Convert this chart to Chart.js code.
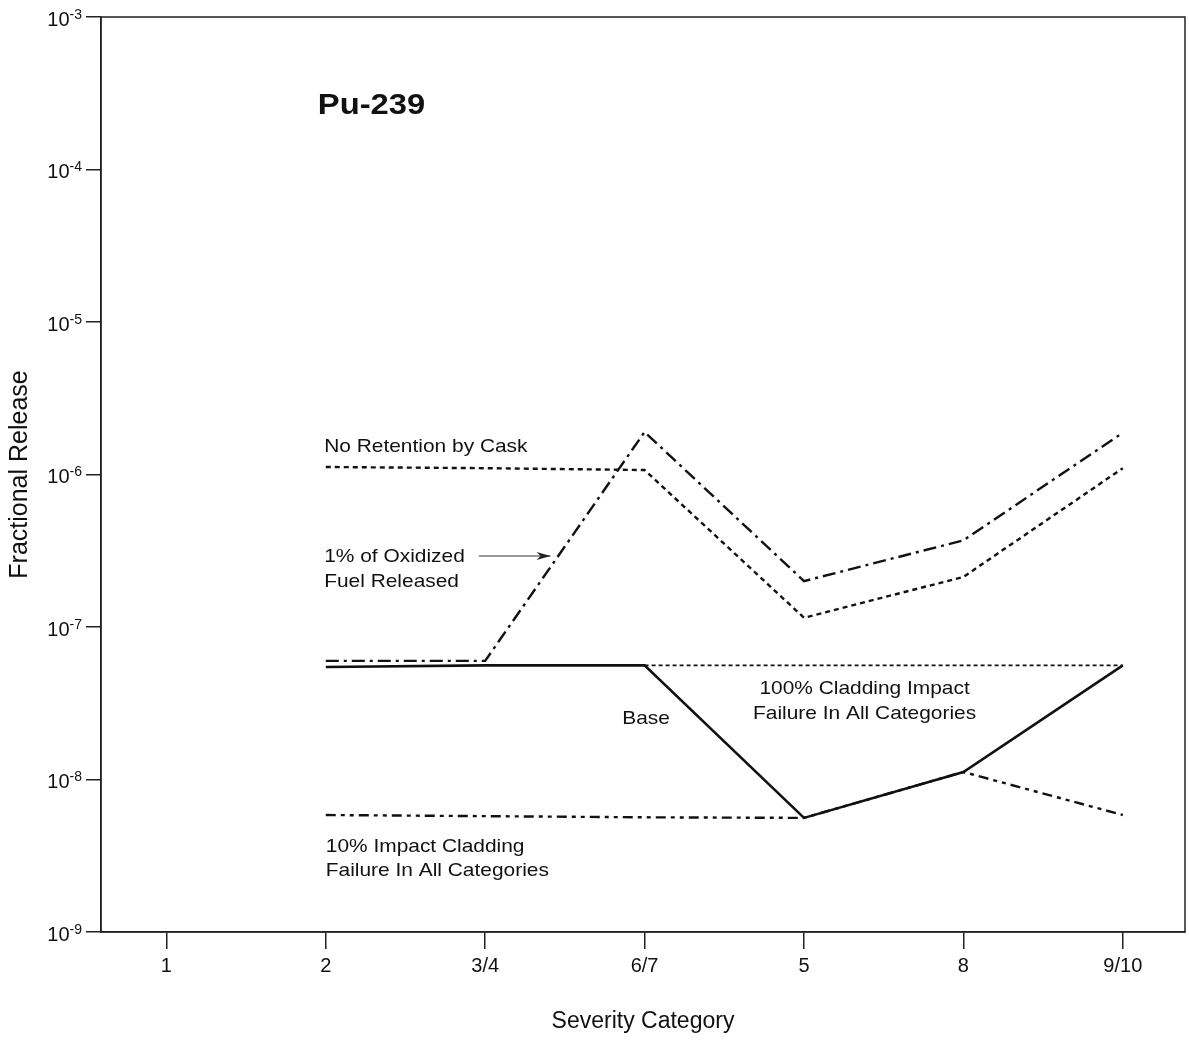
<!DOCTYPE html>
<html>
<head>
<meta charset="utf-8">
<script src="https://cdn.jsdelivr.net/npm/chart.js@4.4.1/dist/chart.umd.min.js"></script>
<style>
  html, body { margin: 0; padding: 0; background: #fff; }
  #wrap { width: 1189px; height: 1041px; position: relative; }
</style>
</head>
<body>
<div id="wrap"><canvas id="c"></canvas></div>
<script>
// ---- data ----
const categories = ['1', '2', '3/4', '6/7', '5', '8', '9/10'];
const noRetention  = [null, 1.12e-6, 1.10e-6, 1.07e-6, 1.15e-7, 2.13e-7, 1.10e-6];
const oxidizedFuel = [null, 6.0e-8, 6.0e-8, 1.90e-6, 2.0e-7, 3.7e-7, 1.88e-6];
const baseCase     = [null, 5.47e-8, 5.6e-8, 5.6e-8, 5.6e-9, 1.12e-8, 5.6e-8];
const cladding100  = [null, null, null, 5.6e-8, 5.6e-8, 5.6e-8, 5.6e-8];
const impact10     = [null, 5.85e-9, 5.75e-9, 5.65e-9, 5.6e-9, 1.12e-8, 5.85e-9];
const yTickExponents = [-9, -8, -7, -6, -5, -4, -3];

const seriesNames = ['No Retention by Cask', '1% of Oxidized Fuel Released', 'Base',
                     '100% Cladding Impact Failure In All Categories',
                     '10% Impact Cladding Failure In All Categories'];

// in-plot annotation texts, positioned in data space (x = category position, y = value)
const notes = [
  { text: 'Pu-239', x: 1.95, y: 2.6e-4, bold: true, size: 29, align: 'left' },
  { text: 'No Retention by Cask', x: 1.99, y: 1.51e-6, size: 18.5, align: 'left' },
  { text: '1% of Oxidized', x: 1.99, y: 2.88e-7, size: 18.5, align: 'left' },
  { text: 'Fuel Released', x: 1.99, y: 1.97e-7, size: 18.5, align: 'left' },
  { text: 'Base', x: 3.86, y: 2.49e-8, size: 18.5, align: 'left' },
  { text: '100% Cladding Impact', x: 5.38, y: 3.92e-8, size: 18.5, align: 'center' },
  { text: 'Failure In All Categories', x: 5.38, y: 2.69e-8, size: 18.5, align: 'center' },
  { text: '10% Impact Cladding', x: 2.0, y: 3.6e-9, size: 18.5, align: 'left' },
  { text: 'Failure In All Categories', x: 2.0, y: 2.51e-9, size: 18.5, align: 'left' }
];
const arrowNote = { x0: 2.96, x1: 3.41, y: 2.92e-7 };

const toPts = arr => arr.map((v, i) => ({ x: i + 1, y: v }));
const INK = '#111';
const FONT = '"Liberation Sans", Arial, Helvetica, sans-serif';
const SX = 1.13;

const decor = {
  id: 'decor',
  beforeDraw(chart) {
    const ctx = chart.ctx;
    ctx.save();
    ctx.fillStyle = '#fff';
    ctx.fillRect(0, 0, chart.width, chart.height);
    ctx.restore();
  },
  afterDraw(chart) {
    const ctx = chart.ctx;
    const a = chart.chartArea;
    const xs = chart.scales.x, ys = chart.scales.y;
    ctx.save();
    // frame
    ctx.strokeStyle = '#222';
    ctx.lineWidth = 1.5;
    ctx.strokeRect(a.left, a.top, a.right - a.left, a.bottom - a.top);

    // y tick labels 10^n
    ctx.fillStyle = INK;
    ctx.textBaseline = 'middle';
    yTickExponents.forEach(e => {
      const py = ys.getPixelForValue(Math.pow(10, e));
      const sup = String(e);
      ctx.font = '14px ' + FONT;
      const supW = ctx.measureText(sup).width;
      const rightX = a.left - 19;
      ctx.textAlign = 'right';
      ctx.fillText(sup, rightX, py - 2);
      ctx.font = '20px ' + FONT;
      ctx.fillText('10', rightX - supW, py + 3);
    });

    // annotations
    notes.forEach(n => {
      const px = xs.getPixelForValue(n.x);
      const py = ys.getPixelForValue(n.y);
      ctx.save();
      ctx.translate(px, py);
      ctx.scale(SX, 1);
      ctx.font = (n.bold ? 'bold ' : '') + n.size + 'px ' + FONT;
      ctx.textAlign = n.align;
      ctx.textBaseline = 'middle';
      ctx.fillStyle = INK;
      ctx.fillText(n.text, 0, 0);
      ctx.restore();
    });

    // arrow
    const ax0 = xs.getPixelForValue(arrowNote.x0);
    const ax1 = xs.getPixelForValue(arrowNote.x1);
    const ay = ys.getPixelForValue(arrowNote.y);
    ctx.strokeStyle = '#333';
    ctx.lineWidth = 1;
    ctx.beginPath();
    ctx.moveTo(ax0, ay);
    ctx.lineTo(ax1, ay);
    ctx.stroke();
    ctx.fillStyle = '#222';
    ctx.beginPath();
    ctx.moveTo(ax1, ay);
    ctx.lineTo(ax1 - 14, ay - 4);
    ctx.lineTo(ax1 - 10, ay);
    ctx.lineTo(ax1 - 14, ay + 4);
    ctx.closePath();
    ctx.fill();
    ctx.restore();
  }
};

const mk = (label, data, dash, width, order) => ({
  label, data: toPts(data), borderColor: INK, backgroundColor: INK,
  borderWidth: width, borderDash: dash, pointRadius: 0, tension: 0,
  spanGaps: false, fill: false, order, borderCapStyle: 'butt'
});

new Chart(document.getElementById('c'), {
  type: 'line',
  data: {
    datasets: [
      mk(seriesNames[0], noRetention, [5, 4], 2.4, 2),
      mk(seriesNames[1], oxidizedFuel, [13, 5, 3, 5], 2.4, 2),
      mk(seriesNames[3], cladding100, [4, 3], 1.8, 2),
      mk(seriesNames[4], impact10, [10, 5, 4, 5, 4, 5], 2.4, 2),
      mk(seriesNames[2], baseCase, [], 2.6, 0)
    ]
  },
  options: {
    responsive: true,
    maintainAspectRatio: false,
    animation: false,
    layout: { padding: { left: 0, right: 4, top: 17, bottom: 0 } },
    plugins: { legend: { display: false }, tooltip: { enabled: false } },
    scales: {
      x: {
        type: 'linear', min: 0.59, max: 7.39,
        afterBuildTicks: s => { s.ticks = categories.map((c, i) => ({ value: i + 1 })); },
        afterFit: s => { s.height = 109; },
        ticks: {
          callback: v => categories[Math.round(v) - 1],
          color: INK, font: { family: FONT, size: 20 }, padding: 5, maxRotation: 0, autoSkip: false
        },
        grid: { drawOnChartArea: false, drawTicks: true, tickLength: 17, color: '#222', lineWidth: 1.5 },
        border: { display: true, color: '#222', width: 1.5 },
        title: { display: true, text: 'Severity Category', color: INK,
                 font: { family: FONT, size: 23 }, padding: { top: 0, bottom: 6 } }
      },
      y: {
        type: 'logarithmic', min: 1e-9, max: 1e-3,
        afterBuildTicks: s => { s.ticks = yTickExponents.map(e => ({ value: Math.pow(10, e) })); },
        afterFit: s => { s.width = 101; },
        ticks: { display: false },
        grid: { drawOnChartArea: false, drawTicks: true, tickLength: 15, color: '#222', lineWidth: 1.5 },
        border: { display: true, color: '#222', width: 1.5 },
        title: { display: true, text: 'Fractional Release', color: INK,
                 font: { family: FONT, size: 25 }, padding: { top: 5, bottom: 0 } }
      }
    }
  },
  plugins: [decor]
});
</script>
</body>
</html>
